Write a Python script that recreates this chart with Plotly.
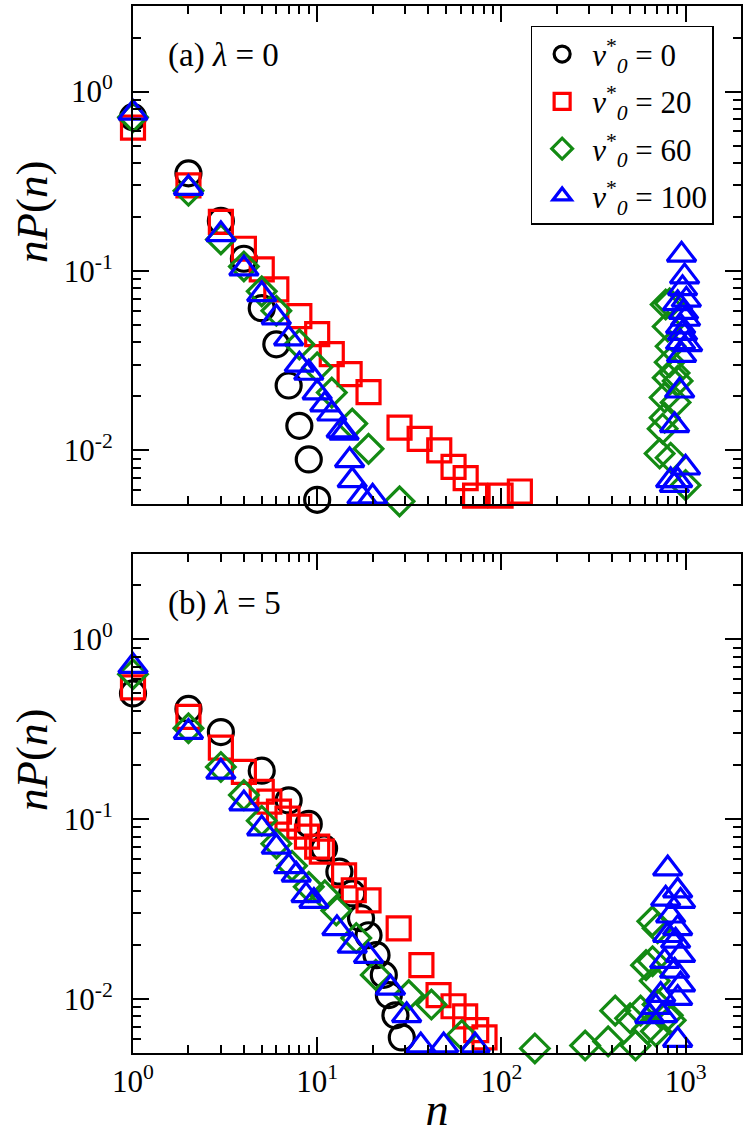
import numpy as np
import plotly.graph_objs as go

# ---- panel (a), lambda = 0 ----
n_a_v0 = [1, 2, 3, 4, 5, 6, 7, 8, 9, 10]
p_a_v0 = [0.72, 0.35, 0.19, 0.117, 0.062, 0.039, 0.023, 0.0137, 0.0089, 0.0053]

n_a_v20 = [1, 2, 3, 4, 5, 6, 8, 10, 12, 15, 19, 28, 36, 46, 55, 64, 72, 99, 126]
p_a_v20 = [0.63, 0.30, 0.188, 0.133, 0.102, 0.079, 0.056, 0.0445, 0.0344, 0.0266, 0.0211,
           0.0134, 0.0116, 0.0100, 0.0081, 0.0070, 0.0056, 0.0056, 0.0059]

n_a_v60 = [1, 2, 3, 4, 5, 6, 8, 10, 12, 15.5, 19, 28,
           723, 751, 770, 770, 780, 800, 800, 800, 820, 820, 830, 830, 872, 883, 906, 1000]
p_a_v60 = [0.72, 0.28, 0.15, 0.106, 0.077, 0.06, 0.039, 0.029, 0.021, 0.0141, 0.0102, 0.0052,
           0.0096, 0.0132, 0.0197, 0.0152, 0.065, 0.049, 0.0254, 0.0048, 0.066, 0.031, 0.038,
           0.0091, 0.027, 0.0185, 0.0244, 0.0064]

n_a_v100 = [1, 2, 3, 4, 5, 6, 7, 8, 9, 10, 11, 12, 13.5, 14, 15, 15.5, 17.5, 20,
            830, 870, 872, 906, 906, 929, 939, 940, 951, 951, 963, 963, 975, 988, 1000, 1000, 1010, 1026]
p_a_v100 = [0.76, 0.29, 0.16, 0.103, 0.074, 0.055, 0.042, 0.030, 0.027, 0.021, 0.018, 0.016,
            0.0129, 0.0125, 0.0088, 0.0068, 0.0055, 0.0055,
            0.0068, 0.0064, 0.0138, 0.066, 0.0068, 0.0215, 0.040, 0.049, 0.123, 0.034, 0.080,
            0.045, 0.059, 0.093, 0.054, 0.0080, 0.069, 0.039]

# ---- panel (b), lambda = 5 ----
n_b_v0 = [1, 2, 3, 5, 7, 9, 10.9, 13.2, 15.5, 17.3, 19, 21, 23, 24.5, 26.6, 28.8]
p_b_v0 = [0.50, 0.41, 0.305, 0.186, 0.127, 0.094, 0.0687, 0.051, 0.0386, 0.0281, 0.0226,
          0.0175, 0.0136, 0.0105, 0.0081, 0.0061]

n_b_v20 = [1, 2, 3, 4, 5, 5.5, 6.2, 6.9, 8, 8.8, 10, 10.6, 14, 15.8, 19, 27.7, 36.8, 45.6,
           55, 63.6, 73, 81]
p_b_v20 = [0.54, 0.37, 0.25, 0.183, 0.142, 0.125, 0.110, 0.1007, 0.0908, 0.080, 0.0703, 0.066,
           0.0486, 0.0402, 0.0353, 0.0247, 0.0154, 0.0105, 0.0091, 0.0080, 0.0067, 0.0061]

n_b_v60 = [1, 2, 3, 4, 5, 6, 7.3, 9, 11, 12.7, 16.3, 20.8, 31.4, 41.7, 50.6, 61, 152,
           285, 380, 415, 500, 535, 570, 610, 622, 660, 662, 680, 690, 705, 705, 800, 830]
p_b_v60 = [0.64, 0.32, 0.195, 0.136, 0.098, 0.073, 0.055, 0.042, 0.0377, 0.031, 0.0218,
           0.0136, 0.0105, 0.0093, 0.0049, 0.0063, 0.0053,
           0.0055, 0.0058, 0.0086, 0.0078, 0.0055, 0.0086, 0.0154, 0.0068, 0.027, 0.0162,
           0.0126, 0.0066, 0.0093, 0.0247, 0.0081, 0.0076]

n_b_v100 = [1, 2, 3, 4, 5, 6, 7, 7.7, 8.7, 9.6, 12.8, 15.5, 19, 25, 30.6, 36.5, 48.6, 72,
            639, 689, 733, 751, 770, 780, 800, 800, 830, 872, 883, 906, 906, 906, 906, 939, 939, 939]
p_b_v100 = [0.71, 0.305, 0.183, 0.122, 0.0886, 0.070, 0.0546, 0.049, 0.0377, 0.035, 0.0247,
            0.0197, 0.0173, 0.0115, 0.0081, 0.0055, 0.0055, 0.0055,
            0.008, 0.009, 0.0105, 0.0081, 0.0162, 0.036, 0.053, 0.0226, 0.029, 0.0143, 0.021,
            0.040, 0.0247, 0.0101, 0.0059, 0.035, 0.0175, 0.012]

legend_names = ["<i>v</i><sup>*</sup><sub><i>0</i></sub> = 0",
                "<i>v</i><sup>*</sup><sub><i>0</i></sub> = 20",
                "<i>v</i><sup>*</sup><sub><i>0</i></sub> = 60",
                "<i>v</i><sup>*</sup><sub><i>0</i></sub> = 100"]

FONT = "Liberation Serif"
colors = ["black", "#ff0000", "#138a13", "#0000ff"]
symbols = ["circle-open", "square-open", "diamond-open", "triangle-up-open"]
sizes = [25, 23, 22, 25]

fig = go.Figure()

panels = [
    ([n_a_v0, n_a_v20, n_a_v60, n_a_v100], [p_a_v0, p_a_v20, p_a_v60, p_a_v100], "x", "y", True),
    ([n_b_v0, n_b_v20, n_b_v60, n_b_v100], [p_b_v0, p_b_v20, p_b_v60, p_b_v100], "x2", "y2", False),
]
for xs, ys, xa, ya, show in panels:
    for i in range(4):
        fig.add_trace(go.Scatter(
            x=xs[i], y=ys[i], mode="markers", name=legend_names[i],
            xaxis=xa, yaxis=ya, showlegend=show, cliponaxis=False,
            legendgroup="g%d" % i,
            marker=dict(symbol=symbols[i], size=sizes[i], color=colors[i],
                        line=dict(width=3.2, color=colors[i]))))

x_major = [1, 10, 100, 1000]
x_text = ["10<sup>0</sup>", "10<sup>1</sup>", "10<sup>2</sup>", "10<sup>3</sup>"]
x_minor = [m * 10 ** k for k in range(4) for m in range(2, 10) if m * 10 ** k < 2000]
y_major = [0.01, 0.1, 1]
y_text = ["10<sup>-2</sup>", "10<sup>-1</sup>", "10<sup>0</sup>"]
y_minor = [m * 10 ** k for k in (-3, -2, -1, 0) for m in range(2, 10) if 0.005 <= m * 10 ** k <= 3]

axis_common = dict(
    type="log", showline=True, linewidth=2, linecolor="black", mirror="ticks",
    ticks="inside", ticklen=16, tickwidth=2, tickcolor="black",
    showgrid=False, zeroline=False, tickmode="array",
    tickfont=dict(family=FONT, size=31, color="black"),
)
x_common = dict(axis_common, range=[0, np.log10(2000)], tickvals=x_major, ticktext=x_text,
                minor=dict(tickmode="array", tickvals=x_minor, ticks="inside", ticklen=8,
                           tickwidth=2, tickcolor="black"))
y_common = dict(axis_common, range=[np.log10(0.005), np.log10(3)], tickvals=y_major,
                ticktext=y_text, ticklabelstandoff=12,
                minor=dict(tickmode="array", tickvals=y_minor, ticks="inside", ticklen=8,
                           tickwidth=2, tickcolor="black"))

fig.update_layout(
    width=747, height=1135,
    margin=dict(l=133, r=4, t=4, b=80),
    paper_bgcolor="white", plot_bgcolor="white",
    font=dict(family=FONT, color="black"),
    xaxis=dict(x_common, anchor="y", showticklabels=False),
    yaxis=dict(y_common, anchor="x", domain=[0.524, 1.0]),
    xaxis2=dict(x_common, anchor="y2",
                title=dict(text="<i>n</i>", font=dict(family=FONT, size=46), standoff=0)),
    yaxis2=dict(y_common, anchor="x2", domain=[0.0, 0.477]),
    legend=dict(x=0.654, y=0.981, xanchor="left", yanchor="top",
                bgcolor="white", bordercolor="black", borderwidth=1.5,
                font=dict(family=FONT, size=31, color="black"),
                itemsizing="trace", itemwidth=50, tracegroupgap=4),
    showlegend=True,
)

# panel labels and y titles
for ya, lab in (("y", "(a) <i>λ</i> = 0"), ("y2", "(b) <i>λ</i> = 5")):
    xr = "x domain" if ya == "y" else "x2 domain"
    fig.add_annotation(text=lab, xref=xr, yref=ya + " domain", x=0.055, y=0.9,
                       xanchor="left", yanchor="middle", showarrow=False,
                       font=dict(family=FONT, size=33, color="black"))
    fig.add_annotation(text="<i>nP</i>(<i>n</i>)", xref="paper", yref=ya + " domain",
                       x=-0.165, y=0.588, xanchor="center", yanchor="middle",
                       textangle=-90, showarrow=False,
                       font=dict(family=FONT, size=45, color="black"))

# the page body has a default 8px margin; drop it so the figure fills the window
fig.write_html("out.html", config={"displayModeBar": False},
               post_script="document.body.style.margin='0';")
